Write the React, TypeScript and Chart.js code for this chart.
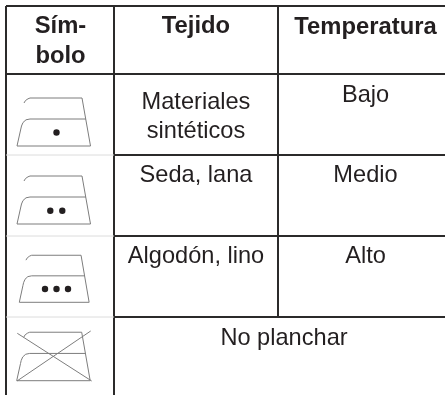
import React, { useEffect, useRef } from "react";
import { Chart, registerables } from "chart.js";

Chart.register(...registerables);

// Table structure, in the 445×395 coordinate system of the scales
const columnLines: number[][] = [[6, 6, 395], [114, 6, 395], [278, 6, 317]];
const strongRows: number[][] = [[6, 445, 6], [6, 445, 74], [114, 445, 155], [114, 445, 236], [114, 445, 317]];
const faintRows: number[][] = [[6, 114, 155], [6, 114, 236], [6, 114, 317]];

// Text cells: label, centre x, baseline y
const headerLabels = ["Sím-", "bolo", "Tejido", "Temperatura"];
const headerX = [60.5, 60.5, 196, 365.5];
const headerY = [33, 63, 33, 34];
const bodyLabels = ["Materiales", "sintéticos", "Bajo", "Seda, lana", "Medio", "Algodón, lino", "Alto", "No planchar"];
const bodyX = [196, 196, 365.5, 196, 365.5, 196, 365.5, 284];
const bodyY = [108.5, 137.5, 101.5, 182, 182, 263, 263, 345];

// Iron glyph outline relative to its base-left corner
const ironCrown: number[][] = [[7, -43], [8.5, -45.5], [11, -47.2], [13, -48], [65, -48], [73.5, 0]];
const ironBody: number[][] = [[73.5, 0], [0, 0], [3.8, -17], [4.5, -20], [6, -23.5], [9, -26.2], [13, -27], [69, -27]];
const ironOrigins: number[][] = [[17, 146, 1, 1], [17, 224, 1, 1], [19.3, 302.3, 0.95, 0.98], [16.7, 380.7, 1, 1.01]];

// Temperature dots
const dotX = [56.5, 50.3, 62.3, 45, 56.5, 68];
const dotY = [132.5, 210.7, 210.7, 289, 289, 289];

// Crossed-out mark on the last iron
const crossA: number[][] = [[17.3, 333.3], [91.7, 381]];
const crossB: number[][] = [[17, 381], [90.7, 331]];

const LINE = "#2b2a2a";
const FAINT = "#dcdcdc";
const GLYPH = "#7d7d7d";
const TEXT = "#231f20";
const FONT = '"Liberation Sans", Arial, sans-serif';

const seg = (pts: number[][], color: string, width: number) => ({
  type: "scatter" as const,
  data: pts.map(([x, y]) => ({ x, y })),
  showLine: true,
  borderColor: color,
  borderWidth: width,
  pointRadius: 0,
  tension: 0,
  clip: false,
});

const tableText = {
  id: "tableText",
  afterDatasetsDraw(chart: any) {
    const { ctx, scales } = chart;
    ctx.save();
    ctx.fillStyle = TEXT;
    ctx.textAlign = "center";
    ctx.textBaseline = "alphabetic";
    ctx.font = `bold 23.8px ${FONT}`;
    headerLabels.forEach((t, i) => ctx.fillText(t, scales.x.getPixelForValue(headerX[i]), scales.y.getPixelForValue(headerY[i])));
    ctx.font = `23.6px ${FONT}`;
    bodyLabels.forEach((t, i) => ctx.fillText(t, scales.x.getPixelForValue(bodyX[i]), scales.y.getPixelForValue(bodyY[i])));
    ctx.restore();
  },
};

export default function App() {
  const ref = useRef<HTMLCanvasElement>(null);
  useEffect(() => {
    const datasets: any[] = [];
    faintRows.forEach(([a, b, y]) => datasets.push(seg([[a, y], [b, y]], FAINT, 1)));
    strongRows.forEach(([a, b, y]) => datasets.push(seg([[a, y], [b, y]], LINE, 2)));
    columnLines.forEach(([x, a, b]) => datasets.push(seg([[x, a], [x, b]], LINE, 2)));
    ironOrigins.forEach(([ox, oy, sx, sy]) => {
      const place = (p: number[][]) => p.map(([x, y]) => [ox + x * sx, oy + y * sy]);
      datasets.push(seg(place(ironCrown), GLYPH, 1));
      datasets.push(seg(place(ironBody), GLYPH, 1));
    });
    datasets.push(seg(crossA, GLYPH, 1));
    datasets.push(seg(crossB, GLYPH, 1));
    datasets.push({
      type: "scatter",
      data: dotX.map((x, i) => ({ x, y: dotY[i] })),
      pointRadius: 3.2,
      pointBorderWidth: 0,
      pointBackgroundColor: TEXT,
      showLine: false,
      clip: false,
    });
    const chart = new Chart(ref.current!, {
      type: "scatter",
      data: { datasets },
      options: {
        animation: false,
        responsive: false,
        layout: { padding: 0, autoPadding: false },
        plugins: { legend: { display: false }, tooltip: { enabled: false } },
        scales: {
          x: { type: "linear", display: false, min: 0, max: 445 },
          y: { type: "linear", display: false, min: 0, max: 395, reverse: true },
        },
      },
      plugins: [tableText],
    } as any);
    return () => chart.destroy();
  }, []);
  return (
    <canvas
      ref={ref}
      width={445}
      height={395}
      style={{ position: "fixed", left: 0, top: 0, display: "block", background: "#fff" }}
    />
  );
}
